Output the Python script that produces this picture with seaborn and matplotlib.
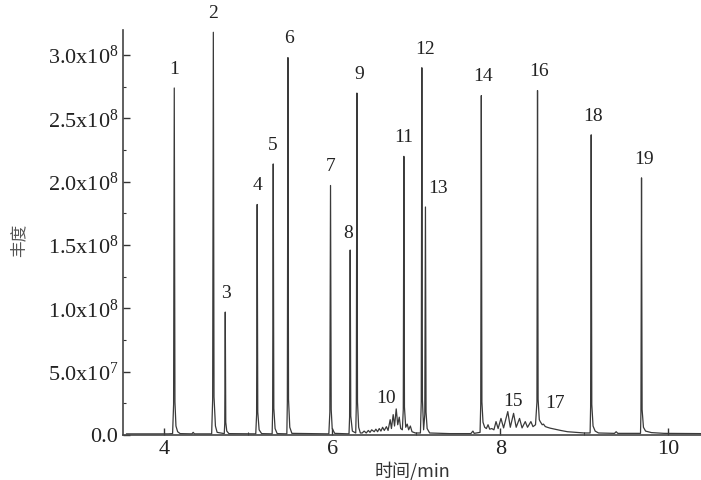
import pandas as pd
import numpy as np
import matplotlib
matplotlib.use("Agg")
import matplotlib.pyplot as plt
import seaborn as sns
from matplotlib.ticker import FuncFormatter, MultipleLocator

# -------------------------------------------------------------
# 数据：色谱图轨迹（时间 / min，丰度 / 1e6）
trace_time = [
    3.55, 4.05, 4.10, 4.112, 4.12, 4.128, 4.14, 4.16, 4.19,          # 1
    4.33, 4.345, 4.36,
    4.565, 4.577, 4.585, 4.593, 4.61, 4.63,                        # 2
    4.715, 4.721, 4.727, 4.733, 4.745, 4.77,                       # 3
    5.09, 5.100, 5.107, 5.114, 5.13, 5.16,                         # 4
    5.285, 5.291, 5.298, 5.305, 5.32, 5.345,                       # 5
    5.46, 5.466, 5.473, 5.48, 5.495, 5.52,                         # 6
    5.96, 5.972, 5.98, 5.988, 6.00, 6.03,                          # 7
    6.20, 6.207, 6.214, 6.221, 6.24,                               # 8
    6.28, 6.287, 6.294, 6.301, 6.315, 6.335,                       # 9
    6.357, 6.38, 6.405, 6.43, 6.45, 6.47, 6.50, 6.52, 6.54,        # 10
    6.56, 6.58, 6.60, 6.62, 6.645, 6.665, 6.69, 6.705, 6.726,
    6.742, 6.762, 6.78, 6.798, 6.815, 6.835,
    6.846, 6.853, 6.86, 6.875, 6.893, 6.91, 6.93, 6.95, 6.99,      # 11
    7.05, 7.06, 7.067, 7.074, 7.088,                               # 12
    7.102, 7.11, 7.117, 7.13, 7.16,                                # 13
    7.40, 7.65, 7.675, 7.69,
    7.76, 7.768, 7.775, 7.782, 7.795,                              # 14
    7.815, 7.835, 7.855, 7.875, 7.90, 7.925, 7.95, 7.975, 8.009,   # 15
    8.04, 8.09, 8.12, 8.159, 8.19, 8.23, 8.26, 8.298, 8.325,
    8.365, 8.39, 8.42,
    8.437, 8.444, 8.451, 8.465, 8.476,                             # 16
    8.50, 8.515, 8.536, 8.56, 8.595, 8.65, 8.72, 8.80, 8.90,       # 17
    9.00, 9.07, 9.076, 9.083, 9.09, 9.105, 9.13, 9.17,             # 18
    9.36, 9.38, 9.40,
    9.67, 9.675, 9.682, 9.689, 9.705, 9.73, 9.80, 9.95,            # 19
    10.40,
]
trace_abund = [
    0.8, 0.8, 1.0, 24, 274, 26, 7, 2.5, 1.0,
    0.8, 2.0, 0.8,
    0.8, 28, 318, 30, 7, 2,
    1.0, 9, 97, 10, 3, 1.0,
    0.8, 16, 182, 18, 4, 1,
    0.8, 19, 214, 21, 5, 1,
    0.8, 26, 298, 28, 6, 1.2,
    0.8, 18, 197, 20, 5, 1.2,
    0.8, 14, 146, 15, 3,
    1.5, 24, 270, 26, 6, 1.5,
    1.5, 3, 1.5, 3.5, 2, 4, 2.5, 4.5, 2.5,
    5, 3, 6, 3.5, 6.5, 3.5, 12, 5, 16,
    7, 20.5, 8, 14, 5, 4,
    20, 220, 22, 6, 8.5, 4, 7, 2.5, 1.5,
    1.5, 26, 290, 28, 4,
    16, 180, 18, 5, 1.5,
    1.0, 1.0, 3, 1.2,
    2, 24, 268, 26, 10,
    6, 5, 8, 4.5, 5, 4, 10.5, 5, 13,
    5.5, 18.4, 6, 17, 6, 13, 5.5, 10.5, 6,
    10.5, 6.5, 8,
    26, 272, 28, 12, 10.5,
    8, 8.5, 6.6, 6, 5.3, 4.5, 3.5, 2.5, 2,
    1.5, 1.5, 22, 237, 24, 7, 3, 1.5,
    1.2, 2.5, 1.2,
    1.2, 18, 203, 20, 6, 3, 1.8, 1.2,
    1.0,
]

# 峰编号标注：保留时间 / min 与标注高度 / 1e6
peak_labels = ["1", "2", "3", "4", "5", "6", "7", "8", "9", "10",
               "11", "12", "13", "14", "15", "16", "17", "18", "19"]
label_time = [4.12, 4.585, 4.74, 5.11, 5.29, 5.49, 5.98, 6.19, 6.32, 6.64,
              6.85, 7.10, 7.26, 7.79, 8.15, 8.46, 8.65, 9.10, 9.71]
label_abund = [282, 326, 105, 190, 222, 306, 205, 152, 278, 22,
               228, 298, 188, 276, 20, 280, 18, 245, 211]

y_ticks = [0, 5e7, 1e8, 1.5e8, 2e8, 2.5e8, 3e8]

df = pd.DataFrame({"time": trace_time, "abund": np.array(trace_abund) * 1e6})

# -------------------------------------------------------------
sns.set_theme(style="ticks")
plt.rcParams["font.family"] = ["Liberation Serif", "Noto Sans CJK SC", "DejaVu Sans"]
plt.rcParams["mathtext.fontset"] = "custom"
plt.rcParams["mathtext.rm"] = "Liberation Serif"
plt.rcParams["mathtext.it"] = "Liberation Serif"

fig = plt.figure(figsize=(7.01, 4.80), dpi=100)
ax = fig.add_axes([0.1755, 0.094, 0.8245, 0.844])

sns.lineplot(data=df, x="time", y="abund", sort=False, estimator=None,
             color="#3a3a3a", lw=0.9, ax=ax)

for lab, t, a in zip(peak_labels, label_time, label_abund):
    ax.text(t, a * 1e6, lab, ha="center", va="bottom", fontsize=14,
            color="#222222")


def sci_fmt(v, pos):
    if v == 0:
        return "0.0"
    e = int(np.floor(np.log10(v)))
    m = v / 10 ** e
    return f"{m:.1f}x10$^{{{e}}}$"


ax.set_xlim(3.51, 10.39)
ax.set_ylim(0, 3.2e8)
ax.set_yticks(y_ticks)
ax.yaxis.set_major_formatter(FuncFormatter(sci_fmt))
ax.yaxis.set_minor_locator(MultipleLocator(2.5e7))
ax.xaxis.set_major_locator(MultipleLocator(2))
ax.xaxis.set_minor_locator(MultipleLocator(1))

ax.tick_params(which="major", direction="in", length=5, width=1.0,
               labelsize=16, colors="#333333", labelcolor="#222222")
ax.tick_params(which="minor", direction="in", length=2.5, width=0.8,
               colors="#333333")
for s in ["left", "bottom"]:
    ax.spines[s].set_color("#444444")
    ax.spines[s].set_linewidth(1.2)
sns.despine(ax=ax)

ax.set_xlabel("时间/min", fontsize=13, color="#333333", labelpad=2,
              family=["Noto Sans CJK SC", "DejaVu Sans"])
ax.set_ylabel("丰度", fontsize=12, color="#555555", labelpad=2,
              family=["Noto Sans CJK SC", "DejaVu Sans"])
ax.yaxis.set_label_coords(-0.165, 0.48)

fig.savefig("out.png", dpi=100)
